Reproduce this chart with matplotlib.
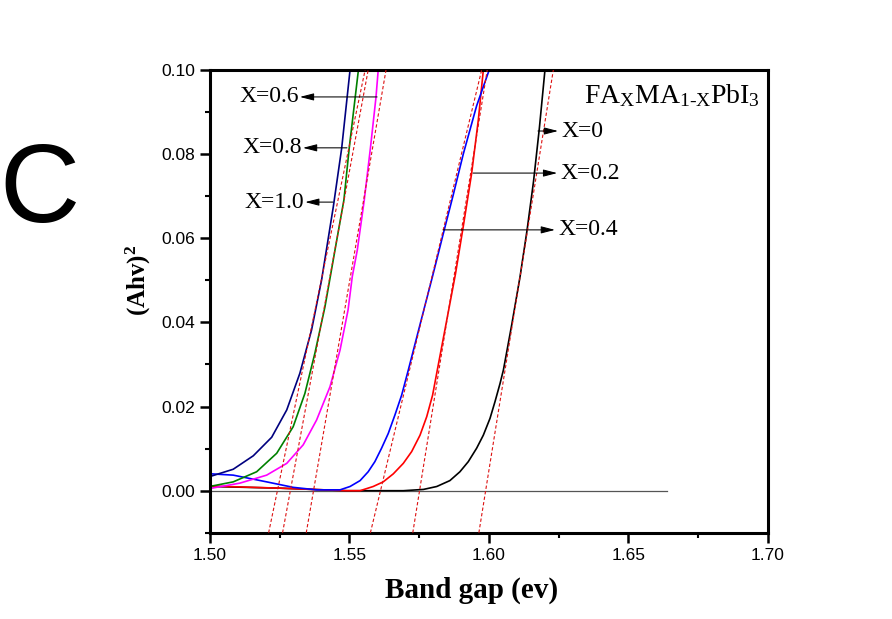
import numpy as np
import matplotlib
matplotlib.use("Agg")
import matplotlib.pyplot as plt

# -----------------------------
# Data (Tauc plot, FA_x MA_(1-x) PbI3)
# -----------------------------
labels = ["X=0", "X=0.2", "X=0.4", "X=0.6", "X=0.8", "X=1.0"]
colors = ["#000000", "#ff0000", "#0000ff", "#00007f", "#008000", "#ff00ff"]

x_00 = [1.5006, 1.5251, 1.5490, 1.5693, 1.5765, 1.5813, 1.5860, 1.5896, 1.5926,
        1.5956, 1.5980, 1.6004, 1.6022, 1.6040, 1.6052, 1.6082, 1.6112, 1.6137,
        1.6160, 1.6181, 1.6201]
y_00 = [0.0010, 0.0006, 0.0000, 0.0000, 0.0003, 0.0010, 0.0024, 0.0045, 0.0069,
        0.0101, 0.0132, 0.0172, 0.0212, 0.0255, 0.0287, 0.0395, 0.0510, 0.0620,
        0.0735, 0.0862, 0.1000]

x_02 = [1.5006, 1.5251, 1.5490, 1.5538, 1.5585, 1.5621, 1.5657, 1.5693, 1.5723,
        1.5753, 1.5777, 1.5798, 1.5815, 1.5849, 1.5880, 1.5908, 1.5938, 1.5962,
        1.5980]
y_02 = [0.0011, 0.0006, 0.0000, 0.0000, 0.0010, 0.0021, 0.0040, 0.0065, 0.0093,
        0.0132, 0.0176, 0.0227, 0.0287, 0.0406, 0.0515, 0.0628, 0.0754, 0.0881,
        0.1000]

x_04 = [1.5006, 1.5083, 1.5203, 1.5298, 1.5382, 1.5466, 1.5502, 1.5538, 1.5567,
        1.5591, 1.5615, 1.5639, 1.5663, 1.5687, 1.5711, 1.5753, 1.5798, 1.5836,
        1.5872, 1.5908, 1.5956, 1.6001]
y_04 = [0.0040, 0.0037, 0.0021, 0.0008, 0.0002, 0.0002, 0.0010, 0.0024, 0.0045,
        0.0069, 0.0101, 0.0136, 0.0180, 0.0227, 0.0287, 0.0395, 0.0510, 0.0610,
        0.0703, 0.0800, 0.0915, 0.1000]

x_06 = [1.5006, 1.5083, 1.5155, 1.5221, 1.5275, 1.5322, 1.5364, 1.5400, 1.5442,
        1.5472, 1.5502]
y_06 = [0.0035, 0.0051, 0.0083, 0.0127, 0.0192, 0.0279, 0.0382, 0.0501, 0.0675,
        0.0814, 0.1000]

x_08 = [1.5006, 1.5083, 1.5167, 1.5239, 1.5298, 1.5340, 1.5376, 1.5412, 1.5448,
        1.5480, 1.5499, 1.5532]
y_08 = [0.0011, 0.0021, 0.0045, 0.0089, 0.0152, 0.0231, 0.0327, 0.0437, 0.0572,
        0.0691, 0.0814, 0.1000]

x_10 = [1.5006, 1.5107, 1.5203, 1.5275, 1.5334, 1.5382, 1.5430, 1.5466, 1.5495,
        1.5510, 1.5528, 1.5553, 1.5575, 1.5595, 1.5603]
y_10 = [0.0006, 0.0018, 0.0037, 0.0065, 0.0109, 0.0168, 0.0247, 0.0334, 0.0430,
        0.0509, 0.0572, 0.0691, 0.0814, 0.0935, 0.1000]

# linear-fit (dashed) lines: x where they cross y=-0.01 and y=0.10
fit_x_bottom = [1.5964, 1.5727, 1.5575, 1.5210, 1.5260, 1.5345]
fit_x_top    = [1.6231, 1.5994, 1.5974, 1.5556, 1.5567, 1.5631]
fit_y = [-0.01, 0.10]

# arrows: (tail x, head x, y)
arrow_tail = [1.6176, 1.5943, 1.5836, 1.5599, 1.5491, 1.5441]
arrow_head = [1.6248, 1.6245, 1.6237, 1.5322, 1.5333, 1.5341]
arrow_y    = [0.0855, 0.0755, 0.0620, 0.0936, 0.0815, 0.0686]

baseline_x = [1.50, 1.6637]
baseline_y = [0.0, 0.0]

x_ticks = [1.50, 1.55, 1.60, 1.65, 1.70]
y_ticks = [0.00, 0.02, 0.04, 0.06, 0.08, 0.10]

# -----------------------------
# Style
# -----------------------------
plt.rcParams['font.family'] = ['Liberation Sans', 'DejaVu Sans']
plt.rcParams['mathtext.fontset'] = 'custom'
plt.rcParams['mathtext.rm'] = 'Liberation Serif'
plt.rcParams['mathtext.it'] = 'Liberation Serif:italic'
plt.rcParams['mathtext.bf'] = 'Liberation Serif:bold'
serif = ['Liberation Serif', 'DejaVu Serif']

fig = plt.figure(figsize=(8.92, 6.19), dpi=100)
ax = fig.add_axes([0.2355, 0.1393, 0.6252, 0.7476])

curves = [(x_00, y_00), (x_02, y_02), (x_04, y_04),
          (x_06, y_06), (x_08, y_08), (x_10, y_10)]

ax.plot(baseline_x, baseline_y, color='#555555', lw=0.9, zorder=1)

for (xs, ys), c in zip(curves, colors):
    ax.plot(xs, ys, color=c, lw=1.2, zorder=2,
            solid_joinstyle='round', solid_capstyle='round')

for xb, xt in zip(fit_x_bottom, fit_x_top):
    ax.plot([xb, xt], fit_y, color='#dd1111', lw=0.8, ls=(0, (3, 2)), zorder=3)

# arrows + labels
for lab, xt, xh, ya in zip(labels, arrow_tail, arrow_head, arrow_y):
    ax.annotate('', xy=(xh, ya), xytext=(xt, ya),
                arrowprops=dict(arrowstyle='-|>,head_length=0.7,head_width=0.18',
                                color='k', lw=0.75, shrinkA=0, shrinkB=0,
                                mutation_scale=12), zorder=4)
    if xh > xt:
        ax.text(xh + 0.0012, ya, lab, ha='left', va='center',
                fontsize=17, family=serif)
    else:
        ax.text(xh - 0.0002, ya, lab, ha='right', va='center',
                fontsize=17, family=serif)

ax.text(0.986, 0.9287, r'$\mathrm{FA_XMA_{1\text{-}X}PbI_3}$',
        transform=ax.transAxes, ha='right', va='baseline', fontsize=20)

ax.set_xlim(1.50, 1.70)
ax.set_ylim(-0.01, 0.10)
ax.set_xticks(x_ticks)
ax.set_yticks(y_ticks)
ax.set_xticklabels([f"{v:.2f}" for v in x_ticks])
ax.set_yticklabels([f"{v:.2f}" for v in y_ticks])
ax.set_xticks(np.arange(1.525, 1.70, 0.05), minor=True)
ax.set_yticks(np.arange(-0.01, 0.10, 0.02), minor=True)
ax.tick_params(which='major', direction='out', length=7, width=1.8,
               labelsize=12.5, pad=4)
ax.tick_params(which='minor', direction='out', length=3.5, width=1.5)
ax.tick_params(top=False, right=False)
for s in ax.spines.values():
    s.set_linewidth(2.2)

# axis labels and panel letter
fig.text(0.5286, 0.0339, 'Band gap (ev)', ha='center', va='baseline',
         fontsize=21, fontweight='bold', family=serif)
fig.text(0.155, 0.5477, r'$\mathbf{(Ahv)^2}$', ha='center', va='center',
         rotation=90, fontsize=18)
fig.text(0.0448, 0.641, 'C', ha='center', va='baseline', fontsize=80)

fig.savefig('out.png', dpi=100)
